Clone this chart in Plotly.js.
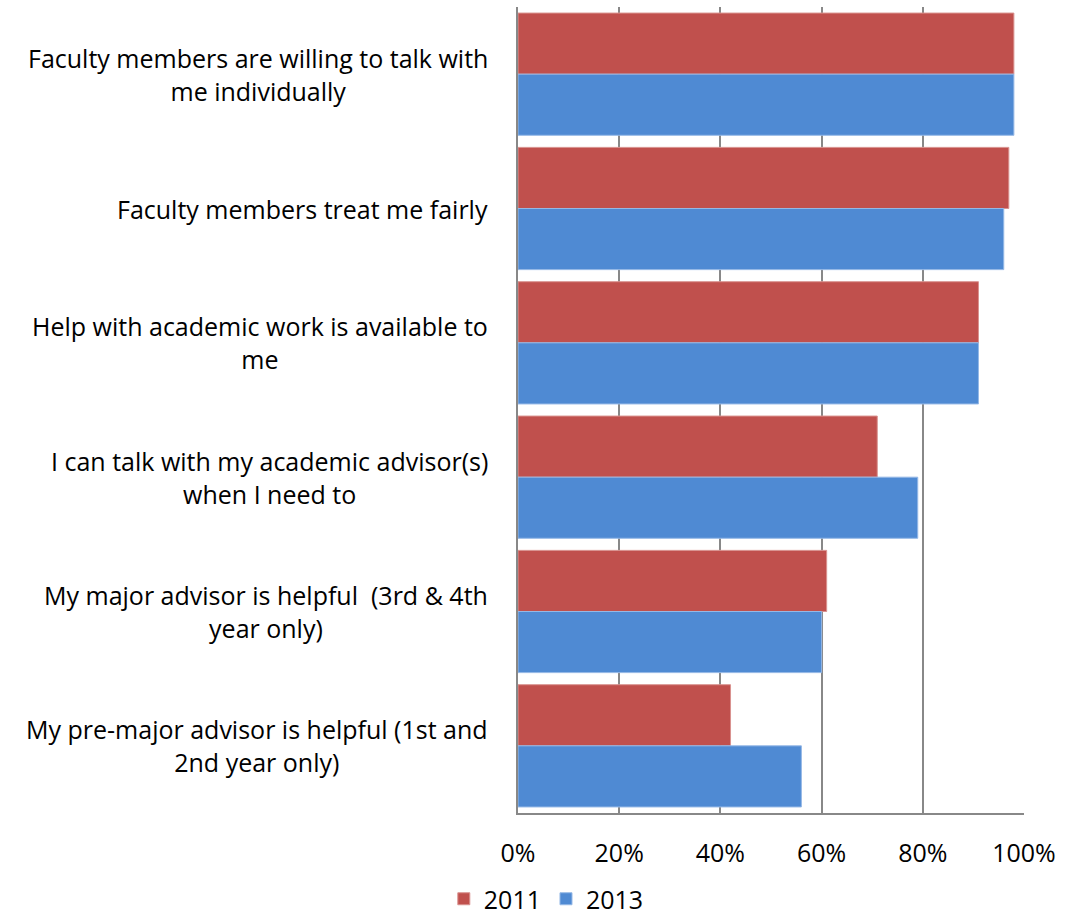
<!DOCTYPE html>
<html>
<head>
<meta charset="utf-8">
<script src="https://cdn.plot.ly/plotly-3.0.1.min.js"></script>
<style>html,body{margin:0;padding:0;background:#fff;}#chart{width:1067px;height:922px;}</style>
</head>
<body>
<div id="chart"></div>
<script>
const categories = [
  "Faculty members are willing to talk with<br>me individually",
  "Faculty members treat me fairly",
  "Help with academic work is available to<br>me",
  "I can talk with my academic advisor(s)<br>when I need to",
  "My major advisor is helpful  (3rd &amp; 4th<br>year only)",
  "My pre-major advisor is helpful (1st and<br>2nd year only)"
];
const catKeys = ["c1","c2","c3","c4","c5","c6"];
const values2011 = [98, 97, 91, 71, 61, 42];
const values2013 = [98, 96, 91, 79, 60, 56];
const tickVals = [0, 20, 40, 60, 80, 100];
const tickText = ["0%", "20%", "40%", "60%", "80%", "100%"];

const FONT = "'Open Sans', Carlito, Calibri, sans-serif";
const FS = 25;

const traces = [
  {type:'bar', orientation:'h', name:'2011', y:catKeys, x:values2011,
   marker:{color:'#C0504D', line:{color:'#D9928F', width:1}}},
  {type:'bar', orientation:'h', name:'2013', y:catKeys, x:values2013,
   marker:{color:'#4F8AD3', line:{color:'#95B8E6', width:1}}}
];

const annotations = categories.map((c, i) => ({
  xref:'paper', yref:'y', x:-0.055, y:catKeys[i],
  xanchor:'right', yanchor:'middle', align:'center',
  text:c, showarrow:false,
  font:{family:FONT, size:FS, color:'#000'}
}));

const layout = {
  width:1067, height:922,
  margin:{l:518, r:43, t:7, b:109},
  paper_bgcolor:'#fff', plot_bgcolor:'#fff',
  barmode:'group', bargap:0.09, bargroupgap:0,
  font:{family:FONT, size:FS, color:'#000'},
  showlegend:true,
  legend:{orientation:'h', xref:'container', yref:'container',
          x:0.512, xanchor:'center', y:0.0, yanchor:'bottom',
          font:{family:FONT, size:FS, color:'#000'}, traceorder:'normal',
          itemwidth:30, tracegroupgap:0},
  xaxis:{range:[0,100], tickvals:tickVals, ticktext:tickText,
         showgrid:true, gridcolor:'#888888', gridwidth:2,
         showline:true, linecolor:'#888888', linewidth:2,
         zeroline:false, ticks:'', ticklabelstandoff:17,
         tickfont:{family:FONT, size:FS, color:'#000'}, fixedrange:true},
  yaxis:{type:'category', categoryorder:'array', categoryarray:catKeys,
         autorange:'reversed', showticklabels:false,
         showline:true, linecolor:'#888888', linewidth:2,
         showgrid:false, zeroline:false, ticks:''},
  annotations:annotations
};

Plotly.newPlot('chart', traces, layout, {displayModeBar:false, staticPlot:true});
</script>
</body>
</html>
